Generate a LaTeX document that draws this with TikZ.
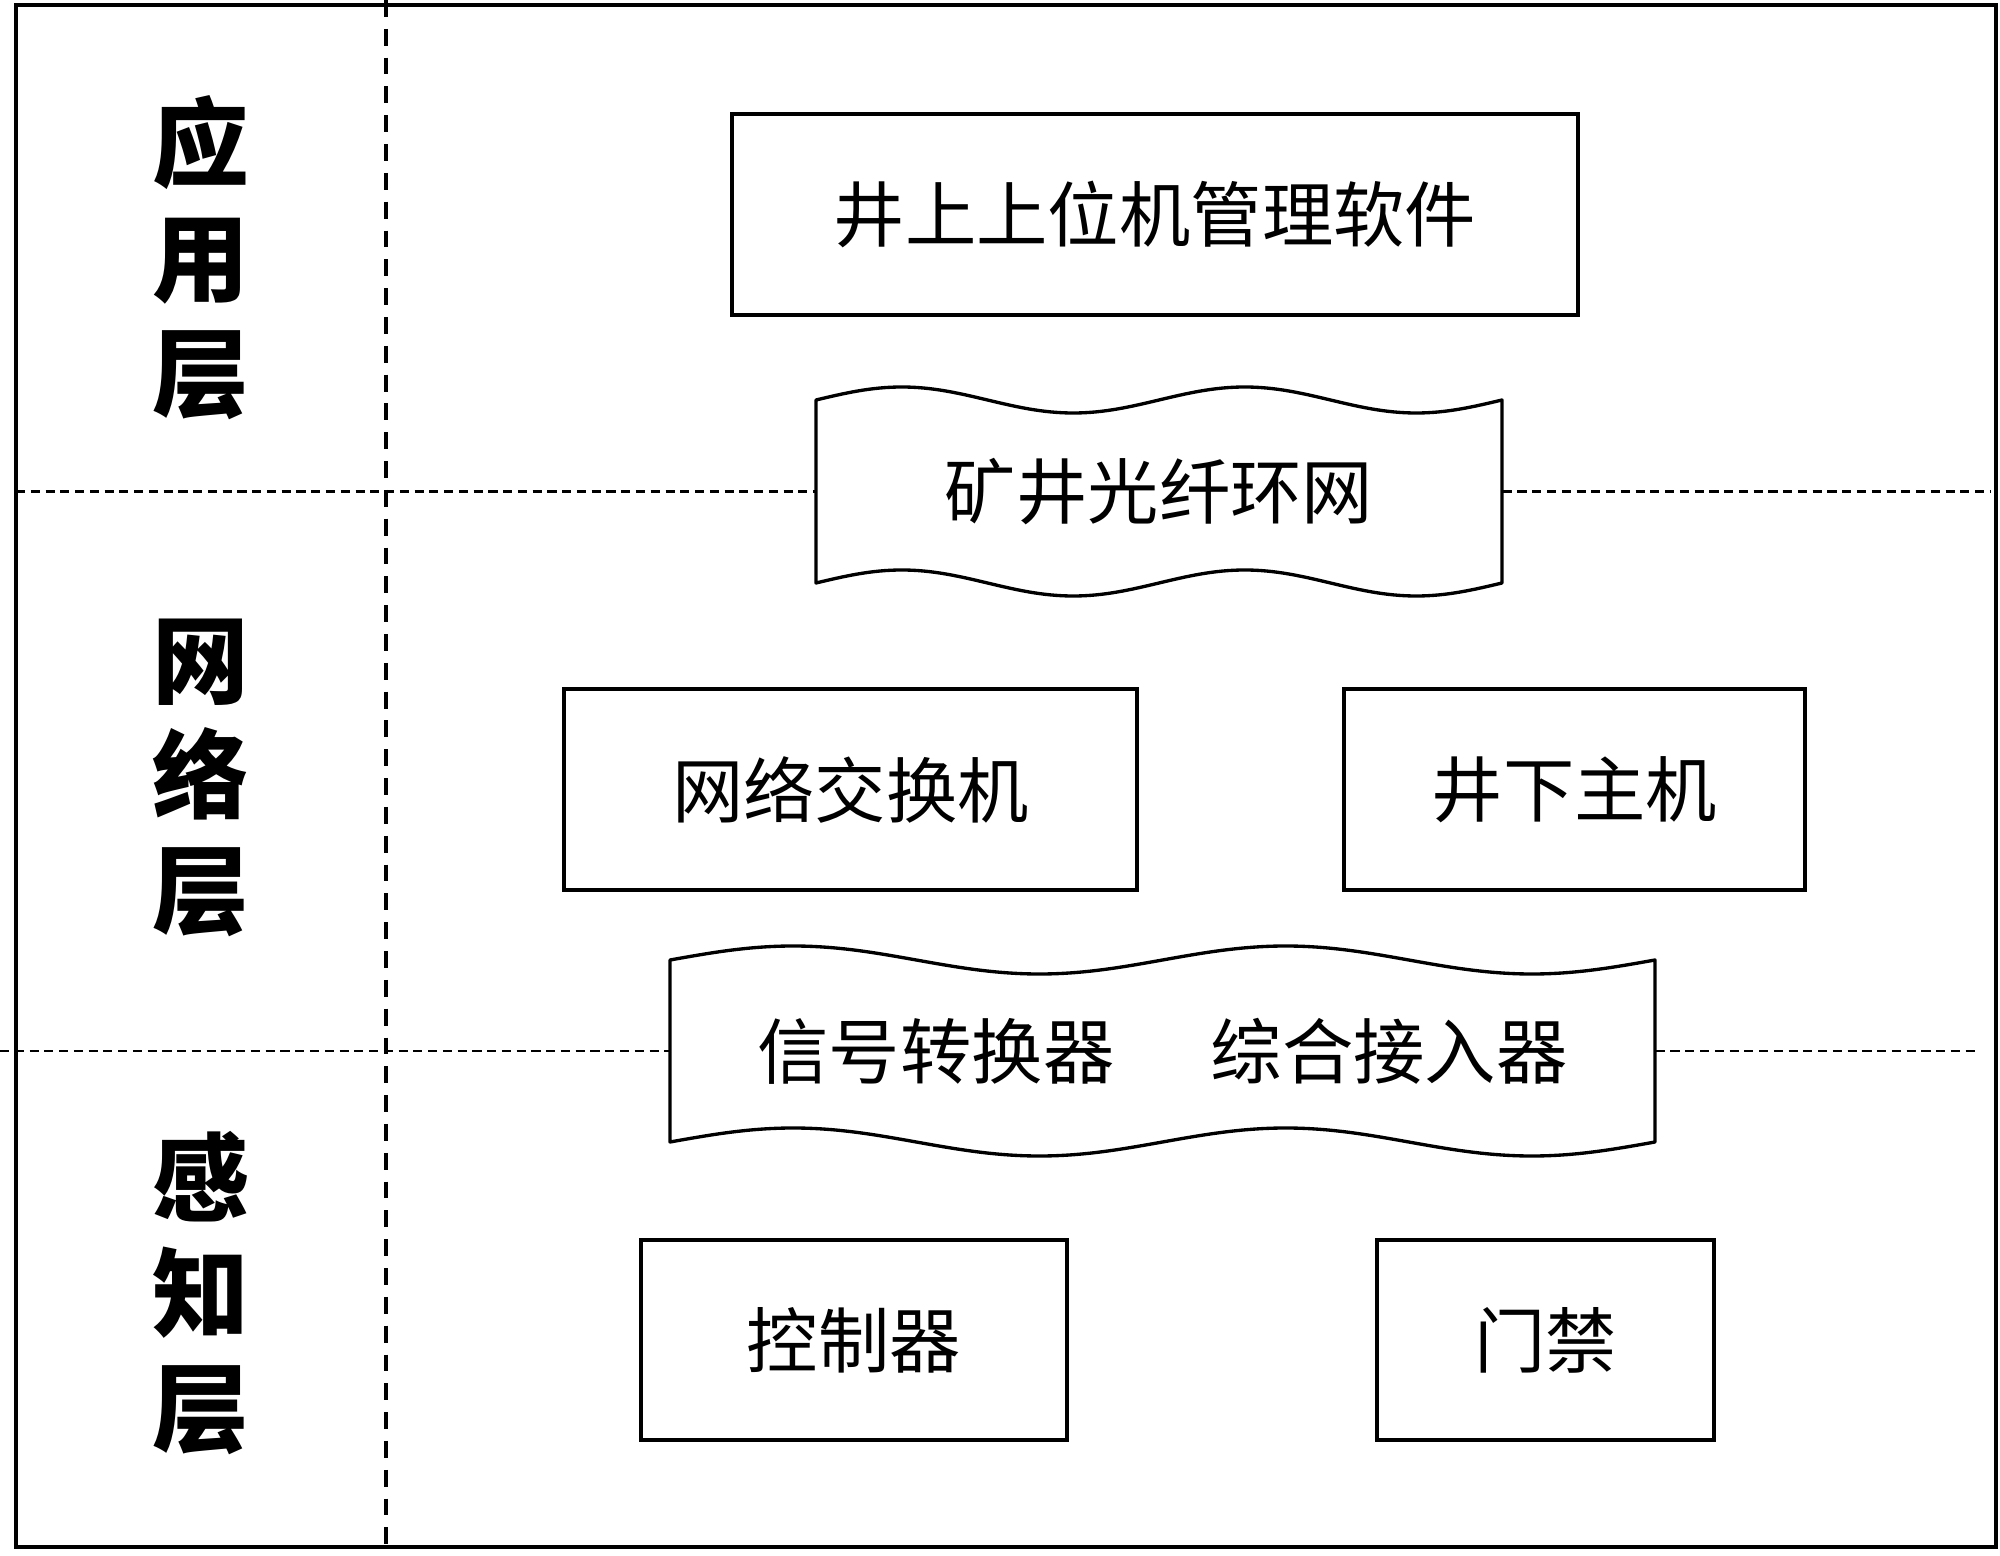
\documentclass[tikz,border=0pt]{standalone}
\usepackage{fontspec}
\setmainfont{Noto Sans CJK SC}
\usepackage{tikz}
\newcommand{\boxfont}{\fontsize{20.3}{24}\selectfont}
\newcommand{\layerfont}{\bfseries\fontsize{27.5}{32.7}\selectfont}
\tikzset{
    unit/.style={draw, line width=0.95pt, minimum height=2.01cm, inner sep=0pt, font=\boxfont},
    tapetext/.style={inner sep=0pt, minimum height=1.83cm, font=\boxfont},
    layer/.style={align=center, inner sep=0pt, font=\layerfont},
    layerline/.style={line width=0.7pt, dash pattern=on 2.6pt off 1.6pt},
    pics/wavetape/.style args={#1/#2/#3}{
    code = {
        \pgfmathsetmacro{\q}{#1/4}
        \draw[line width=0.95pt, line join=round]
            (-#1,#2) sin ++(\q,#3) cos ++(\q,-#3) sin ++(\q,-#3) cos ++(\q,#3)
                     sin ++(\q,#3) cos ++(\q,-#3) sin ++(\q,-#3) cos ++(\q,#3)
            -- (#1,-#2) sin ++(-\q,-#3) cos ++(-\q,#3) sin ++(-\q,#3) cos ++(-\q,-#3)
                     sin ++(-\q,-#3) cos ++(-\q,#3) sin ++(-\q,#3) cos ++(-\q,-#3)
            -- cycle;
    }}
}

\begin{document}
\begin{tikzpicture}
    \useasboundingbox (0,0) rectangle (20,15.55);

    % frame and column border
    \draw[line width=1.3pt] (0.16,0.08) rectangle (19.96,15.50);
    \coordinate (ctop) at (3.86,15.55);
    \coordinate (cbot) at (3.86,0);
    \draw[line width=1.1pt, dash pattern=on 4.8pt off 3.4pt] (ctop) -- (cbot);

    % layer names
    \node[layer] (app) at (2.01,12.97) {应\\用\\层};
    \node[layer] (net) at (2.01,7.77) {网\\络\\层};
    \node[layer] (sense) at (2.01,2.62) {感\\知\\层};

    % application layer
    \node[unit, minimum width=8.46cm] (soft) at (11.55,13.405) {井上上位机管理软件};

    % network layer
    \pic at (11.59,10.635) {wavetape=3.43/0.915/0.13};
    \node[tapetext, minimum width=6.86cm] (ring) at (11.59,10.635) {矿井光纤环网};
    \node[unit, minimum width=5.73cm] (switch) at (8.505,7.655) {网络交换机};
    \node[unit, minimum width=4.61cm] (host) at (15.745,7.655) {井下主机};
    \pic at (11.625,5.04) {wavetape=4.925/0.91/0.14};
    \node[tapetext, minimum width=9.85cm] (access) at (11.625,5.04) {信号转换器\hspace{1.35em}综合接入器};

    % sensing layer
    \node[unit, minimum width=4.26cm, minimum height=2cm] (ctrl) at (8.54,2.15) {控制器};
    \node[unit, minimum width=3.37cm, minimum height=2cm] (door) at (15.455,2.15) {门禁};

    % layer borders
    \coordinate (b1l) at (0.16,10.635);
    \coordinate (b1r) at (19.90,10.635);
    \coordinate (b2l) at (0,5.04);
    \coordinate (b2r) at (19.77,5.04);
    \draw[layerline] (b1l) -- (ring.west);
    \draw[layerline] (ring.east) -- (b1r);
    \draw[layerline] (b2l) -- (access.west);
    \draw[layerline] (access.east) -- (b2r);
\end{tikzpicture}
\end{document}
